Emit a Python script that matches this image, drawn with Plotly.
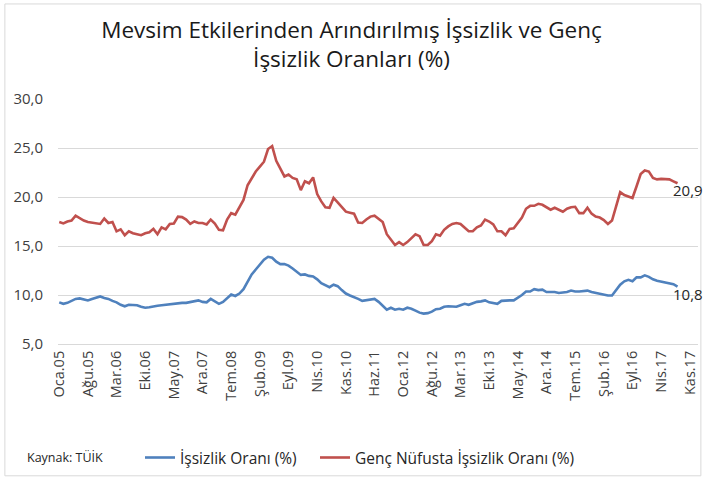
import plotly.graph_objects as go

# Monthly data, Jan 2005 (index 0) .. Aug 2017 (index 151)
issizlik = [
    9.25, 9.1, 9.2, 9.4, 9.6, 9.65, 9.55, 9.45, 9.6, 9.75,
    9.85, 9.7, 9.6, 9.4, 9.25, 9.0, 8.85, 9.0, 9.0, 8.95,
    8.8, 8.7, 8.75, 8.85, 8.9, 8.95, 9.0, 9.05, 9.1, 9.2,
    9.2, 9.2, 9.3, 9.4, 9.45, 9.3, 9.25, 9.6, 9.35, 9.1,
    9.3, 9.65, 10.05, 9.9, 10.15, 10.6, 11.4, 12.1, 12.6, 13.1,
    13.6, 13.9, 13.8, 13.4, 13.15, 13.15, 13.0, 12.7, 12.35, 12.05,
    12.1, 11.95, 11.9, 11.6, 11.2, 11.0, 10.8, 11.05, 10.9, 10.5,
    10.15, 9.95, 9.8, 9.6, 9.4, 9.45, 9.55, 9.6, 9.3, 8.9,
    8.5, 8.7, 8.5, 8.6, 8.5, 8.7, 8.6, 8.4, 8.2, 8.1,
    8.15, 8.3, 8.55, 8.6, 8.8, 8.85, 8.8, 8.8, 8.95, 9.1,
    9.0, 9.15, 9.3, 9.35, 9.45, 9.25, 9.2, 9.1, 9.4, 9.45,
    9.45, 9.45, 9.7, 10.0, 10.35, 10.35, 10.6, 10.5, 10.55, 10.3,
    10.3, 10.3, 10.2, 10.25, 10.3, 10.45, 10.35, 10.35, 10.4, 10.45,
    10.3, 10.2, 10.15, 10.0, 9.95, 9.95, 10.5, 11.05, 11.4, 11.55,
    11.4, 11.8, 11.8, 12.0, 11.85, 11.6, 11.45, 11.35, 11.3, 11.2,
    11.1, 10.85,
]

genc_issizlik = [
    17.45, 17.3, 17.5, 17.6, 18.1, 17.85, 17.6, 17.45, 17.4, 17.3,
    17.25, 17.8, 17.35, 17.45, 16.5, 16.7, 16.1, 16.5, 16.3, 16.2,
    16.1, 16.3, 16.4, 16.75, 16.2, 16.9, 16.7, 17.25, 17.3, 18.0,
    17.95, 17.7, 17.25, 17.5, 17.35, 17.35, 17.2, 17.7, 17.3, 16.65,
    16.6, 17.7, 18.35, 18.2, 18.9, 19.7, 21.2, 21.9, 22.6, 23.1,
    23.6, 24.9, 25.2, 23.7, 22.9, 22.1, 22.3, 21.95, 21.8, 20.7,
    21.6, 21.4, 22.0, 20.3, 19.55, 18.95, 18.9, 19.9, 19.45, 18.95,
    18.5, 18.4, 18.3, 17.4, 17.35, 17.7, 18.0, 18.1, 17.8, 17.45,
    16.2, 15.65, 15.1, 15.4, 15.1, 15.4, 15.8, 16.2, 16.0, 15.1,
    15.1, 15.5, 16.2, 16.05, 16.65, 17.0, 17.25, 17.35, 17.25, 16.85,
    16.5, 16.5, 16.9, 17.1, 17.7, 17.5, 17.2, 16.5, 16.5, 16.1,
    16.75, 16.8, 17.35, 17.9, 18.8, 19.1, 19.1, 19.3, 19.2, 18.95,
    18.7, 18.9, 18.7, 18.5, 18.8, 18.95, 19.0, 18.35, 18.35, 18.9,
    18.3, 18.0, 17.9, 17.65, 17.25, 17.6, 19.05, 20.5, 20.2, 20.05,
    19.9, 21.1, 22.35, 22.7, 22.6, 21.95, 21.8, 21.85, 21.85, 21.8,
    21.6, 21.4,
]

tick_labels = ["Oca.05", "Ağu.05", "Mar.06", "Eki.06", "May.07", "Ara.07",
               "Tem.08", "Şub.09", "Eyl.09", "Nis.10", "Kas.10", "Haz.11",
               "Oca.12", "Ağu.12", "Mar.13", "Eki.13", "May.14", "Ara.14",
               "Tem.15", "Şub.16", "Eyl.16", "Nis.17", "Kas.17"]
tick_step = 7

end_labels = ["10,8", "20,9"]
series_names = ["İşsizlik Oranı (%)", "Genç Nüfusta İşsizlik Oranı (%)"]
colors = ["#4F81BD", "#C0504D"]

FONT = "'Open Sans', Lato, sans-serif"

fig = go.Figure()
for i, (name, vals, col) in enumerate(zip(series_names, [issizlik, genc_issizlik], colors)):
    fig.add_trace(go.Scatter(
        x=list(range(len(vals))), y=vals, mode="lines", name=name,
        line=dict(color=col, width=2.6), hoverinfo="skip",
        legend="legend" if i == 0 else "legend2"))

for vals, lab in zip([issizlik, genc_issizlik], end_labels):
    fig.add_annotation(x=len(vals) - 1, y=vals[-1], text=lab, showarrow=False,
                       xanchor="left", yanchor="middle", xshift=-7, yshift=-7,
                       font=dict(family=FONT, size=15, color="#262626"))

fig.add_annotation(text="Kaynak: TÜİK", xref="paper", yref="paper",
                   x=-0.052, y=-0.465, xanchor="left", yanchor="middle",
                   showarrow=False, font=dict(family=FONT, size=12.5, color="#262626"))

leg_common = dict(orientation="h", y=-0.465, xanchor="left", yanchor="middle",
                  font=dict(family=FONT, size=15.5, color="#262626"),
                  itemwidth=30, bgcolor="rgba(0,0,0,0)")

fig.update_layout(
    width=703, height=481,
    margin=dict(l=58, r=5, t=99, b=137),
    paper_bgcolor="white", plot_bgcolor="white",
    separators=",.",
    title=dict(text="Mevsim Etkilerinden Arındırılmış İşsizlik ve Genç<br>İşsizlik Oranları (%)",
               x=0.5, xanchor="center", y=1 - 38 / 481, yanchor="middle",
               font=dict(family=FONT, size=22.5, color="#1a1a1a")),
    showlegend=True,
    legend=dict(x=(140 - 58) / 640, **leg_common),
    legend2=dict(x=(315 - 58) / 640, **leg_common),
    shapes=[dict(type="rect", xref="paper", yref="paper",
                 x0=-0.083, x1=1.0045, y0=-0.538, y1=1.388,
                 line=dict(color="#D9D9D9", width=1), fillcolor="rgba(0,0,0,0)",
                 layer="below")],
)

fig.update_xaxes(
    range=[-0.3, 156],
    tickmode="array",
    tickvals=[i * tick_step for i in range(len(tick_labels))],
    ticktext=tick_labels,
    tickangle=-90,
    tickfont=dict(family=FONT, size=14.5, color="#404040"),
    showgrid=False, zeroline=False,
    showline=True, linecolor="#D9D9D9", linewidth=1,
    ticks="", fixedrange=True,
)
fig.update_yaxes(
    range=[5, 30], tick0=5, dtick=5, tickformat=".1f",
    tickfont=dict(family=FONT, size=15, color="#404040"),
    showgrid=True, gridcolor="#D9D9D9", gridwidth=1,
    zeroline=False, showline=False, ticks="", ticklabelstandoff=14,
    fixedrange=True,
)

fig.write_html("out.html", config={"displayModeBar": False},
               post_script="document.body.style.margin='0';")
